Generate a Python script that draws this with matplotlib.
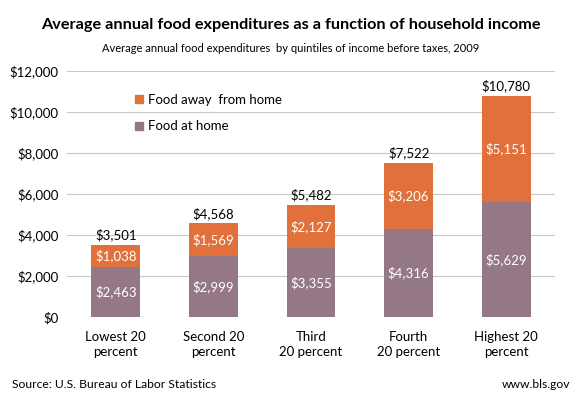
import matplotlib
matplotlib.use("Agg")
import matplotlib.pyplot as plt
from matplotlib.patches import Patch

plt.rcParams['font.family'] = ['Lato', 'DejaVu Sans']

categories = ["Lowest 20\npercent", "Second 20\npercent", "Third\n20 percent",
              "Fourth\n20 percent", "Highest 20\npercent"]
food_at_home = [2463, 2999, 3355, 4316, 5629]
food_away = [1038, 1569, 2127, 3206, 5151]
totals = [3501, 4568, 5482, 7522, 10780]
yticks = [0, 2000, 4000, 6000, 8000, 10000, 12000]

c_home = "#957886"
c_away = "#E2703A"

fig = plt.figure(figsize=(5.81, 3.97), dpi=100)
ax = fig.add_axes([67 / 581, 1 - 317 / 397, (555 - 67) / 581, (317 - 71) / 397])

x = list(range(len(categories)))
ax.bar(x, food_at_home, width=0.5, color=c_home, zorder=3)
ax.bar(x, food_away, width=0.5, bottom=food_at_home, color=c_away, zorder=3)

for i in x:
    ax.text(i, food_at_home[i] / 2, f"${food_at_home[i]:,}", ha="center", va="center",
            color="white", fontsize=9.5, zorder=4)
    ax.text(i, food_at_home[i] + food_away[i] / 2, f"${food_away[i]:,}", ha="center",
            va="center", color="white", fontsize=9.5, zorder=4)
    ax.text(i, totals[i] + 180, f"${totals[i]:,}", ha="center", va="bottom",
            color="black", fontsize=9.5)

ax.set_xlim(-0.5, len(categories) - 0.5)
ax.set_ylim(0, 12000)
ax.set_yticks(yticks)
ax.set_yticklabels([f"${v:,}" for v in yticks], fontsize=9.5)
ax.set_xticks(x)
ax.set_xticklabels(categories, fontsize=9.5, linespacing=1.3)
ax.tick_params(length=0, pad=6)
ax.tick_params(axis="x", pad=10)
ax.grid(axis="y", color="#c8c8c8", linewidth=0.8, zorder=0)
for s in ax.spines.values():
    s.set_visible(False)

handles = [Patch(color=c_away, label="Food away  from home"),
           Patch(color=c_home, label="Food at home")]
ax.legend(handles=handles, loc="upper left", bbox_to_anchor=(0.115, 0.955), frameon=False,
          fontsize=9.5, handlelength=0.6, handleheight=0.6, handletextpad=0.4,
          labelspacing=1.1)

fig.text(0.5, 1 - 25 / 397, "Average annual food expenditures as a function of household income",
         ha="center", va="center", fontsize=11.7, fontweight="bold")
fig.text(0.5, 1 - 48 / 397, "Average annual food expenditures  by quintiles of income before taxes, 2009",
         ha="center", va="center", fontsize=8)
fig.text(12 / 581, 1 - 384 / 397, "Source: U.S. Bureau of Labor Statistics", ha="left",
         va="center", fontsize=8.7)
fig.text(570 / 581, 1 - 384 / 397, "www.bls.gov", ha="right", va="center", fontsize=8.7)

fig.savefig("out.png", dpi=100)
